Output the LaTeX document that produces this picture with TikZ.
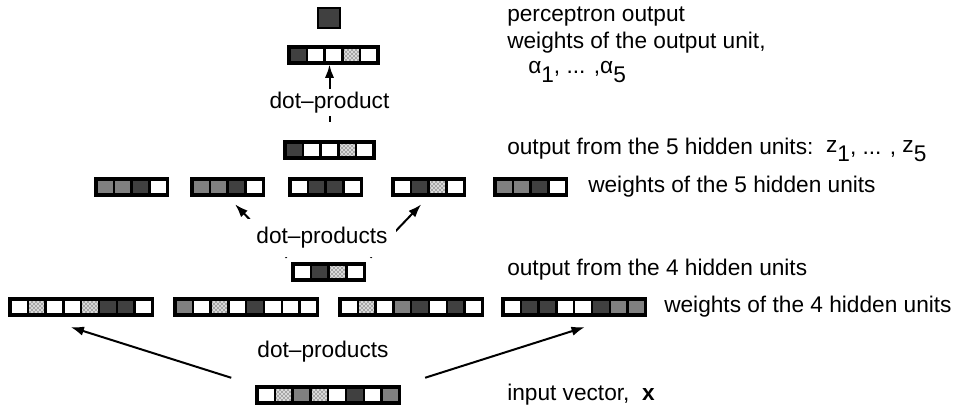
\documentclass[tikz,border=0pt]{standalone}
\usepackage{fontspec}
\setmainfont{Liberation Sans}
\usetikzlibrary{arrows.meta,fit,patterns,calc}

\definecolor{darkcell}{HTML}{404040}
\definecolor{midcell}{HTML}{808080}

\tikzset{
  cell/.style={draw=black, line width=1.7pt, minimum width=13.35pt,
    minimum height=12pt, inner sep=0pt, outer sep=0pt},
  cw/.style={fill=white},
  cd/.style={fill=darkcell},
  cg/.style={fill=midcell},
  cx/.style={fill=gray!30, postaction={pattern=crosshatch dots, pattern color=black}},
  frame/.style={draw=black, line width=2.4pt, inner sep=0pt},
  lbl/.style={anchor=west, inner sep=0pt},
  arr/.style={-{Latex[length=10pt,width=7pt]}, line width=1.5pt},
}

% a row of weight cells: name, number of cells, left x, y, cells
\newcommand{\wrow}[5]{%
  \foreach \c [count=\i] in {#5}
    \node[cell,\c] (#1-\i) at ({#3+(\i-0.5)*17.8}, #4) {};
  \node[frame, fit=(#1-1) (#1-#2)] (#1) {};
}

\begin{document}
\begin{tikzpicture}[x=0.75pt, y=-0.75pt, font=\fontsize{17}{20}\selectfont]
  \useasboundingbox (0,0) rectangle (960,406);

  % output unit
  \node[cell, cd, line width=1.8pt, minimum width=16.5pt, minimum height=15pt] (perc) at (329,18) {};
  \wrow{outw}{5}{289}{55}{cd,cw,cw,cx,cw}

  % 5 hidden units
  \wrow{hfive}{5}{285}{150}{cd,cw,cw,cx,cw}
  \wrow{fa}{4}{96}{187}{cg,cg,cd,cw}
  \wrow{fb}{4}{192}{187}{cg,cg,cd,cw}
  \wrow{fc}{4}{290}{187}{cw,cd,cd,cw}
  \wrow{fd}{4}{393}{187}{cw,cd,cx,cw}
  \wrow{fe}{4}{495}{187}{cg,cg,cd,cw}

  % 4 hidden units
  \wrow{hfour}{4}{293}{272}{cw,cd,cx,cw}
  \wrow{ga}{8}{10}{307}{cw,cx,cw,cw,cx,cd,cd,cw}
  \wrow{gb}{8}{175}{307}{cg,cw,cx,cw,cd,cw,cw,cw}
  \wrow{gc}{8}{340}{307}{cw,cx,cw,cg,cd,cw,cd,cw}
  \wrow{gd}{8}{503}{307}{cw,cd,cd,cw,cw,cd,cg,cg}

  % input
  \wrow{inp}{8}{257}{395}{cw,cx,cg,cx,cw,cd,cw,cg}

  % connectors
  \draw[arr, shorten <=14pt] (hfive.north) -- (hfive.north |- outw.south)
    node[midway, fill=white, inner sep=2pt] (dp) {dot--product};
  \draw[arr, shorten <=5pt, shorten >=8pt] (hfour.north west) -- (fb.south);
  \draw[arr, shorten <=5pt, shorten >=8pt] (hfour.north east) -- (fd.south);
  \node[fill=white, inner sep=6pt] (dps) at (322,238) {dot--products};
  \draw[arr, shorten <=19pt, shorten >=26pt] (inp.north west) -- ($(ga.south)!0.6!(ga.south west)$);
  \draw[arr, shorten <=19pt, shorten >=26pt] (inp.north east) -- ($(gd.south)!0.6!(gd.south east)$);
  \node (dpi) at (323,352) {dot--products};

  % labels
  \node[lbl] (tperc) at (507,17) {perceptron output};
  \node[lbl] (toutw) at (507,43) {weights of the output unit,};
  \node[lbl] (talpha) at (528,72) {α\raisebox{-6.5pt}{1}, ... ,α\raisebox{-6.5pt}{5}};
  \node[lbl] (thfive) at (507,150) {output from the 5 hidden units:\ \ \raisebox{2pt}{z}\raisebox{-5pt}{1}, ... , \raisebox{2pt}{z}\raisebox{-5pt}{5}};
  \node[lbl] (tfw) at (588,187) {weights of the 5 hidden units};
  \node[lbl] (thfour) at (507,270) {output from the 4 hidden units};
  \node[lbl] (tgw) at (664,307) {weights of the 4 hidden units};
  \node[lbl] (tinp) at (507,395) {input vector,\ \ \textbf{x}};
\end{tikzpicture}
\end{document}
